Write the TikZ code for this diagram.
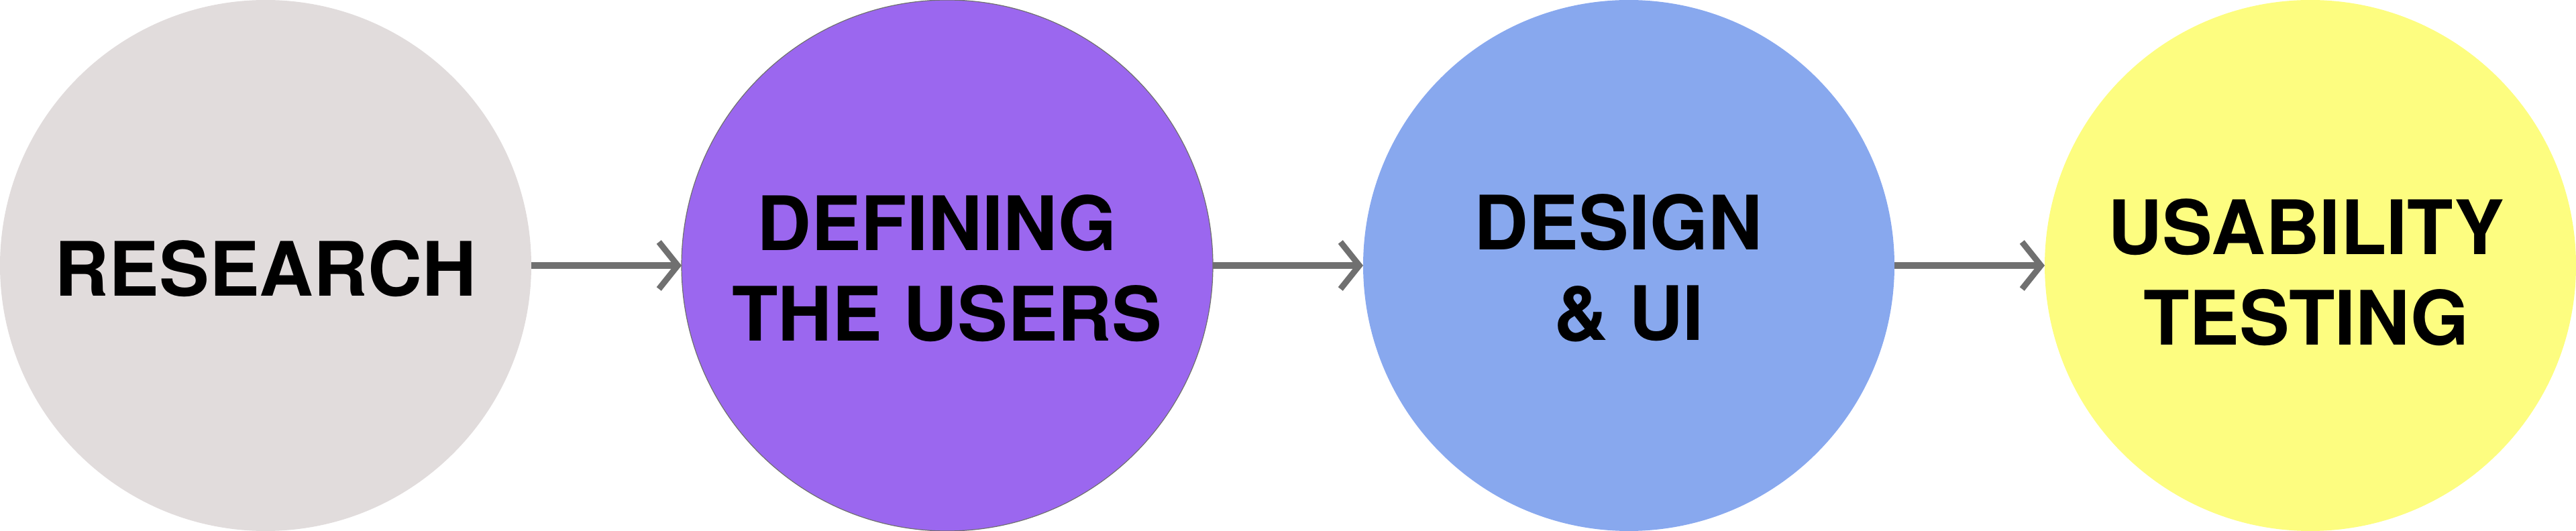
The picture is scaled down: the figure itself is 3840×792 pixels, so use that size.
\documentclass[tikz,border=0pt]{standalone}
\usepackage{fontspec}
\setmainfont{TeX Gyre Heros}
\usetikzlibrary{arrows.meta}
\definecolor{cresearch}{HTML}{E1DCDC}
\definecolor{cdefine}{HTML}{9B67EF}
\definecolor{cdesign}{HTML}{88A8EE}
\definecolor{ctest}{HTML}{FDFD80}
\definecolor{carrow}{HTML}{707070}
\tikzset{
  stage/.style={circle, minimum size=792pt, inner sep=0pt, outer sep=0pt},
  stagetext/.style={align=center, text=black, inner sep=0pt,
    font=\fontsize{112}{135}\selectfont\bfseries},
  flow/.style={draw=carrow, line width=10pt,
    -{Straight Barb[length=28pt, width=70pt, line width=9pt]}}
}
\begin{document}
\begin{tikzpicture}[x=1pt,y=1pt]
\useasboundingbox (0,0) rectangle (3840,792);
\node[stage, fill=cresearch] (r) at (396,396) {};
\node[stage, fill=cdefine, draw=carrow, line width=1.2pt] (d) at (1412,396) {};
\node[stage, fill=cdesign] (g) at (2428,396) {};
\node[stage, fill=ctest] (t) at (3444,396) {};
\node[stagetext] (rt) at ([yshift=-5pt]r.center) {RESEARCH};
\node[stagetext] (dt) at ([yshift=-4pt]d.center) {DEFINING\kern31pt\\THE USERS};
\node[stagetext] (gt) at ([yshift=-4pt]g.center) {DESIGN\kern31pt\\\& UI};
\node[stagetext] (tt) at ([xshift=-6pt,yshift=-10pt]t.center) {USABILITY\\TESTING};
\draw[flow] (r.east) -- (d.west);
\draw[flow] (d.east) -- (g.west);
\draw[flow] (g.east) -- (t.west);
\end{tikzpicture}
\end{document}
